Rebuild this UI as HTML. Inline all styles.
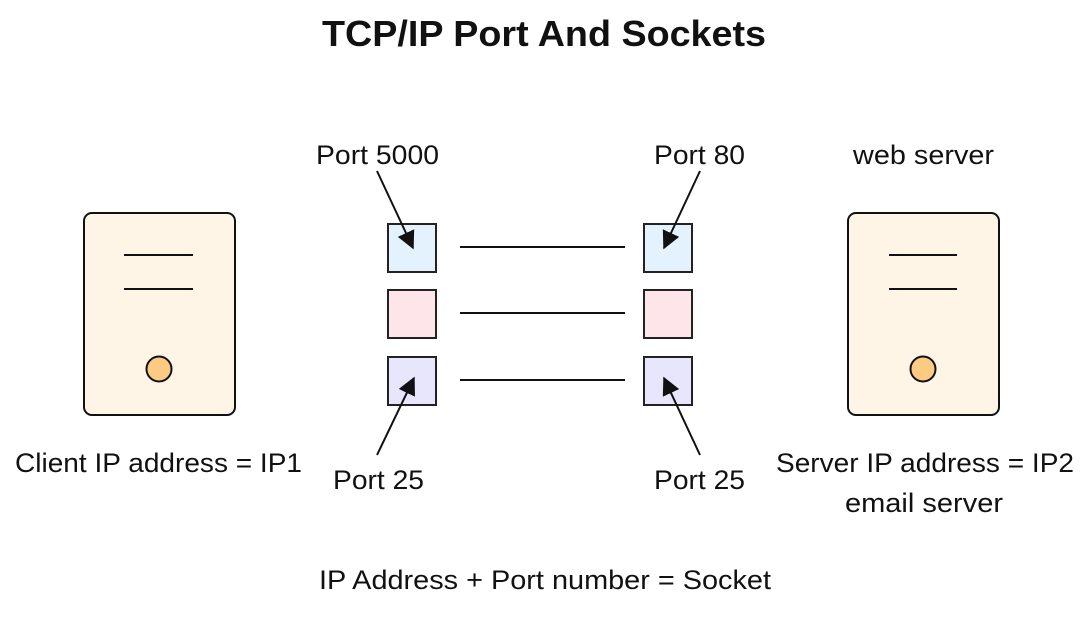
<!DOCTYPE html>
<html><head><meta charset="utf-8"><style>
html,body{margin:0;padding:0;background:#fff;}
svg{display:block;}
text{font-family:"Liberation Sans",sans-serif;fill:#111;}
</style></head><body>
<svg width="1092" height="629" viewBox="0 0 1092 629" xmlns="http://www.w3.org/2000/svg">
<defs>
<marker id="a" viewBox="0 0 12 12" refX="11" refY="6" markerWidth="18" markerHeight="18" orient="auto" markerUnits="userSpaceOnUse"><path d="M0,0 L12,6 L0,12 z" fill="#111"/></marker>
</defs>
<text x="544" y="46" text-anchor="middle" font-size="36" font-weight="bold" textLength="444" lengthAdjust="spacingAndGlyphs">TCP/IP Port And Sockets</text>

<rect x="84" y="213" width="151" height="202" rx="8" fill="#fef5e6" stroke="#111" stroke-width="2"/>
<line x1="124" y1="255" x2="193" y2="255" stroke="#111" stroke-width="2"/>
<line x1="124" y1="289" x2="193" y2="289" stroke="#111" stroke-width="2"/>
<circle cx="159" cy="369" r="12.5" fill="#fdca83" stroke="#111" stroke-width="2"/>
<rect x="848" y="213" width="151" height="202" rx="8" fill="#fef5e6" stroke="#111" stroke-width="2"/>
<line x1="889" y1="255" x2="957" y2="255" stroke="#111" stroke-width="2"/>
<line x1="889" y1="289" x2="957" y2="289" stroke="#111" stroke-width="2"/>
<circle cx="923" cy="369" r="12.5" fill="#fdca83" stroke="#111" stroke-width="2"/>

<g stroke="#222" stroke-width="2">
<rect x="388" y="224" width="48" height="48" fill="#e3f2fd"/>
<rect x="388" y="290" width="48" height="48" fill="#fde5ea"/>
<rect x="388" y="357" width="48" height="48" fill="#e8e6fd"/>
<rect x="644" y="224" width="48" height="48" fill="#e3f2fd"/>
<rect x="644" y="290" width="48" height="48" fill="#fde5ea"/>
<rect x="644" y="357" width="48" height="48" fill="#e8e6fd"/>
</g>
<g stroke="#111" stroke-width="2">
<line x1="460" y1="247" x2="625" y2="247"/>
<line x1="460" y1="313" x2="625" y2="313"/>
<line x1="460" y1="380" x2="625" y2="380"/>
<line x1="377" y1="171" x2="413" y2="248" marker-end="url(#a)"/>
<line x1="700" y1="171" x2="664" y2="248" marker-end="url(#a)"/>
<line x1="377" y1="455" x2="414" y2="378" marker-end="url(#a)"/>
<line x1="700" y1="455" x2="664" y2="378" marker-end="url(#a)"/>
</g>

<g font-size="27">
<text x="316" y="164" textLength="123" lengthAdjust="spacingAndGlyphs">Port 5000</text>
<text x="654" y="164" textLength="91" lengthAdjust="spacingAndGlyphs">Port 80</text>
<text x="853" y="164" textLength="141" lengthAdjust="spacingAndGlyphs">web server</text>
<text x="15" y="472" textLength="287" lengthAdjust="spacingAndGlyphs">Client IP address = IP1</text>
<text x="776" y="472" textLength="298" lengthAdjust="spacingAndGlyphs">Server IP address = IP2</text>
<text x="333" y="489" textLength="91" lengthAdjust="spacingAndGlyphs">Port 25</text>
<text x="654" y="489" textLength="91" lengthAdjust="spacingAndGlyphs">Port 25</text>
<text x="845" y="512" textLength="158" lengthAdjust="spacingAndGlyphs">email server</text>
<text x="319" y="589" textLength="452" lengthAdjust="spacingAndGlyphs">IP Address + Port number = Socket</text>
</g>
</svg>
</body></html>
